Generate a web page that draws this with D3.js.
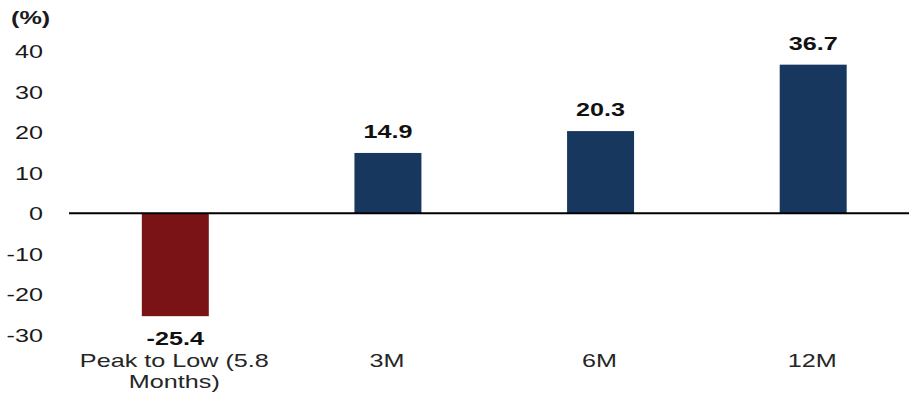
<!DOCTYPE html>
<html>
<head>
<meta charset="utf-8">
<script src="https://cdn.jsdelivr.net/npm/d3@7"></script>
<style>
  html, body { margin: 0; padding: 0; background: #fff; }
  svg { display: block; }
</style>
</head>
<body>
<div id="chart"></div>
<script>
// Returns over each window, in %
const categories = ['Peak to Low (5.8 Months)', '3M', '6M', '12M'];
const categoryLines = [['Peak to Low (5.8', 'Months)'], ['3M'], ['6M'], ['12M']];
const values = [-25.4, 14.9, 20.3, 36.7];
const yTicks = [-30, -20, -10, 0, 10, 20, 30, 40];
const unitLabel = '(%)';

(function () {
    const width = 910, height = 396;
    const FONT = '"Liberation Sans", Arial, sans-serif';
    const FS = 18;       // font size
    const SX = 1.4;      // the source text is stretched wide
    const POS = '#17375e', NEG = '#7a1315';

    const svg = d3.select('#chart').append('svg')
        .attr('width', width).attr('height', height);

    const x = d3.scaleBand().domain(categories).range([69, 919.5])
        .paddingInner(0.685).paddingOuter(0.3425);
    const y = d3.scaleLinear().domain([-30, 40]).range([334.8, 51.3]);

    // wide text helper: scale about the anchor point
    function wideText(px, py, str, anchor, weight, fill) {
        return svg.append('g').attr('transform', `translate(${px},${py}) scale(${SX},1)`)
            .append('text')
            .attr('text-anchor', anchor)
            .attr('font-family', FONT).attr('font-size', FS + 'px')
            .attr('font-weight', weight).attr('fill', fill)
            .text(str);
    }

    // Y axis (labels only), plain hyphen for negatives
    const yAxis = svg.append('g').attr('transform', 'translate(69,0)')
        .call(d3.axisLeft(y).tickValues(yTicks).tickSize(0).tickFormat(d => String(d)));
    yAxis.select('.domain').remove();
    yAxis.selectAll('text')
        .attr('x', -26 / SX).attr('dy', '0.36em')
        .attr('transform', `scale(${SX},1)`)
        .attr('font-family', FONT).attr('font-size', FS + 'px')
        .attr('fill', '#1a1a1a');

    wideText(11, 24, unitLabel, 'start', 700, '#1a1a1a');

    // Bars
    svg.selectAll('.bar').data(values).enter().append('rect')
        .attr('x', (d, i) => x(categories[i]))
        .attr('y', d => y(Math.max(0, d)))
        .attr('width', x.bandwidth())
        .attr('height', d => Math.abs(y(d) - y(0)))
        .attr('fill', d => d < 0 ? NEG : POS);

    // Zero line
    svg.append('line')
        .attr('x1', x.range()[0]).attr('x2', width - 1)
        .attr('y1', y(0)).attr('y2', y(0))
        .attr('stroke', '#000').attr('stroke-width', 2);

    // Value labels
    values.forEach((v, i) => {
        const cx = x(categories[i]) + x.bandwidth() / 2;
        const ty = v < 0 ? y(v) + 28.5 : y(v) - 15;
        wideText(cx, ty, v.toFixed(1), 'middle', 700, '#111');
    });

    // Category labels
    categoryLines.forEach((lines, i) => {
        const cx = x(categories[i]) + x.bandwidth() / 2 - 1;
        lines.forEach((ln, j) => {
            wideText(cx, 367 + j * 21, ln, 'middle', 400, '#262626');
        });
    });
})();
</script>
</body>
</html>
